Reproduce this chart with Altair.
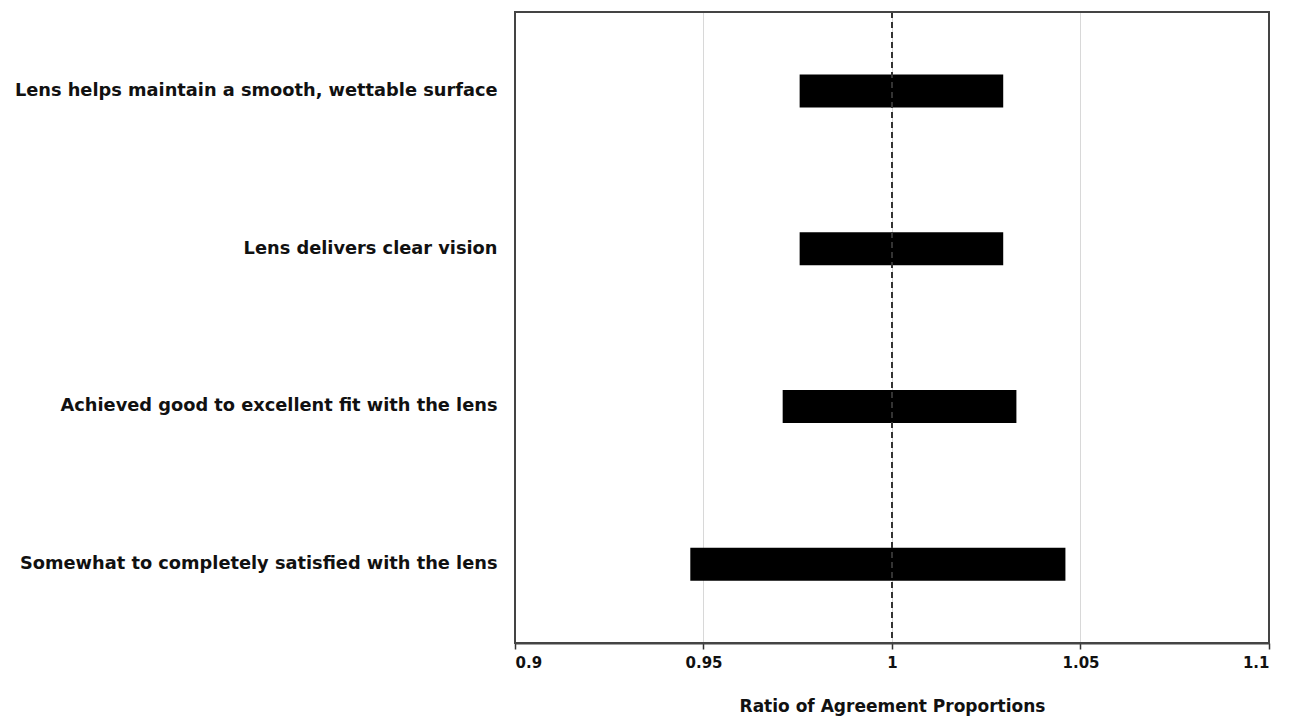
import altair as alt
import pandas as pd

categories = [
    "Lens helps maintain a smooth, wettable surface",
    "Lens delivers clear vision",
    "Achieved good to excellent fit with the lens",
    "Somewhat to completely satisfied with the lens",
]
lower = [0.9755, 0.9755, 0.971, 0.9465]
upper = [1.0295, 1.0295, 1.033, 1.046]
x_ticks = [0.9, 0.95, 1.0, 1.05, 1.1]
ref_value = [1.0]

W, H = 754, 631

df = pd.DataFrame({"item": categories, "lo": lower, "hi": upper})
ref = pd.DataFrame({"x": ref_value})
frame_df = pd.DataFrame({"f": [0]})

xscale = alt.Scale(domain=[0.9, 1.1], nice=False, zero=False)
FONT = "DejaVu Sans"

bars = alt.Chart(df).mark_bar(color="#000000", size=33).encode(
    y=alt.Y(
        "item:N",
        sort=categories,
        scale=alt.Scale(paddingInner=0, paddingOuter=0),
        axis=alt.Axis(
            title=None, ticks=False, domain=False, labelFont=FONT,
            labelFontWeight="bold", labelFontSize=17.8, labelColor="#111111",
            labelPadding=18, labelLimit=700,
        ),
    ),
    x=alt.X(
        "lo:Q",
        scale=xscale,
        axis=alt.Axis(
            values=x_ticks, format="~g", title="Ratio of Agreement Proportions",
            grid=True, gridColor="#d8d8d8", gridWidth=1,
            labelFont=FONT, labelFontWeight="bold", labelFontSize=15,
            labelColor="#111111", labelPadding=6, tickColor="#333333", tickSize=6,
            tickWidth=1.5, domainColor="#444444", domainWidth=2,
            titleFont=FONT, titleFontWeight="bold", titleFontSize=17,
            titleColor="#111111", titlePadding=28,
        ),
    ),
    x2="hi:Q",
)

rule = alt.Chart(ref).mark_rule(color="#333333", strokeDash=[6, 4], strokeWidth=2).encode(
    x=alt.X("x:Q", scale=xscale)
)

frame = alt.Chart(frame_df).mark_rect(
    fill=None, fillOpacity=0, stroke="#444444", strokeWidth=2
).encode(
    x=alt.value(0), x2=alt.value(W), y=alt.value(0), y2=alt.value(H)
)

chart = (
    alt.layer(bars, rule, frame)
    .properties(
        width=W,
        height=H,
        autosize=alt.AutoSizeParams(type="none"),
        padding={"left": 507, "top": 4, "right": 15, "bottom": 75},
    )
    .configure_view(stroke=None)
    .configure(background="white")
)

chart.save("out.html", embed_options={"renderer": "svg", "actions": False})
